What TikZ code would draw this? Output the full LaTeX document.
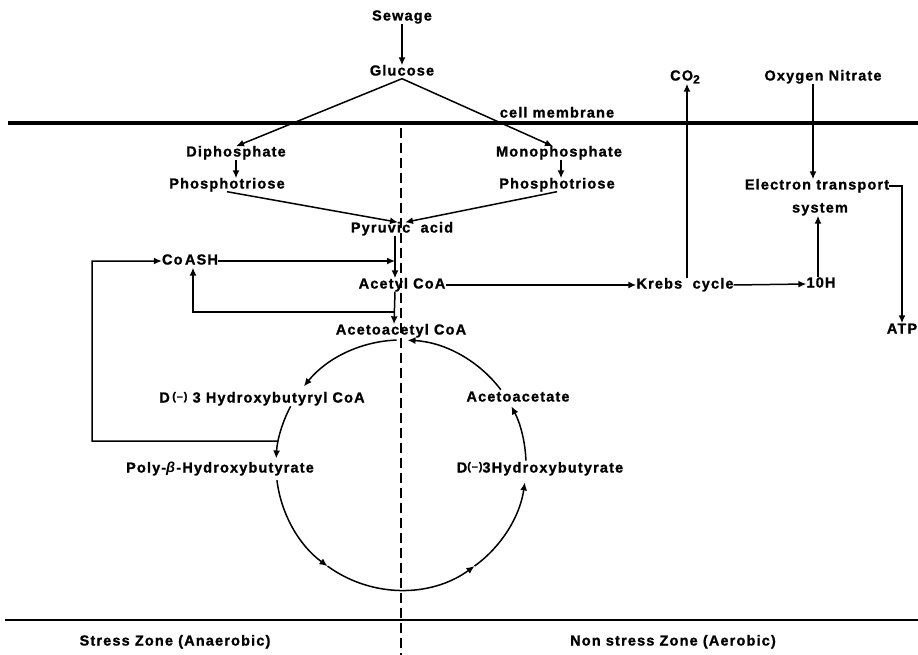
\documentclass[tikz,border=0pt]{standalone}
\usepackage{fontspec}
\setmainfont{Liberation Sans}[LetterSpace=8, BoldFeatures={FakeBold=1.2}]
\usetikzlibrary{arrows.meta}

\newcommand{\levosign}{\raisebox{2.5pt}{\fontsize{11}{11}\selectfont(--)}}

\begin{document}
\begin{tikzpicture}[x=1pt,y=-1pt]
        \tikzstyle{every node}=[font=\fontsize{14.5}{17}\selectfont\bfseries, inner sep=0pt, text height=10pt, text depth=3pt]
        \tikzstyle{flow}=[line width=1.5pt, -{Latex[length=8pt,width=7pt]}]

        \useasboundingbox (0,0) rectangle (918,655);

        % membrane, zone border and divide
        \draw[line width=3.5pt] (8,123) -- (918,123);
        \draw[line width=1.4pt] (5,620) -- (918,620);
        \draw[line width=1.5pt, dash pattern=on 10pt off 5pt] (401,128) -- (401,655);

        \node (sewage)    at (402,17)  {Sewage};
        \node (glucose)   at (402,72)  {Glucose};
        \node (memlabel)  at (557,114) {cell membrane};
        \node (diphos)    at (236,153) {Diphosphate};
        \node (triL)      at (227,185) {Phosphotriose};
        \node (monophos)  at (559,153) {Monophosphate};
        \node (triR)      at (557,185) {Phosphotriose};
        \node (pyruvic)   at (402,229) {Pyruvic\ \ acid};
        \node (coash)     at (190,261) {Co\,ASH};
        \node (acetyl)    at (402,285) {Acetyl CoA};
        \node (acacoa)    at (401,331) {Acetoacetyl CoA};
        \node (krebs)     at (685,285) {Krebs\ \ cycle};
        \node (co2)       at (685,77)  {CO\raisebox{-3pt}{\fontsize{12}{12}\selectfont 2}};
        \node (oxygen)    at (823,77)  {Oxygen Nitrate};
        \node (etsA)      at (817,186) {Electron transport};
        \node (etsB)      at (820,209) {system};
        \node (tenh)      at (821,284) {10H};
        \node (atp)       at (902,330) {ATP};
        \node (hbcoa)     at (262,399) {D\,\levosign\ 3 Hydroxybutyryl CoA};
        \node (phb)       at (220,469) {Poly-\textit{β}-Hydroxybutyrate};
        \node (acac)      at (518,398) {Acetoacetate};
        \node (hb)        at (540,469) {D\levosign3Hydroxybutyrate};
        \node (stress)    at (175,642) {Stress Zone (Anaerobic)};
        \node (nonstress) at (673,642) {Non stress Zone (Aerobic)};

        % glycolysis
        \draw[flow] (sewage.south) -- (glucose.north);
        \draw[flow] (glucose.south) -- (diphos.north);
        \draw[flow] (glucose.south) -- ([xshift=-6pt]monophos.north);
        \draw[flow] (diphos.south) -- (diphos.south |- triL.north);
        \draw[flow] ([xshift=2pt]monophos.south) -- ([xshift=2pt]monophos.south |- triR.north);
        \draw[flow] (triL.south) -- ([xshift=-4pt]pyruvic.north);
        \draw[flow] (triR.south) -- ([xshift=3pt]pyruvic.north);

        % CoA branch
        \coordinate (trunk) at ([xshift=-7pt]pyruvic.south);
        \coordinate (ret) at (395,312);
        \coordinate (loopturn) at (92,441);
        \draw[flow] (trunk) -- ([xshift=-7pt]acetyl.north);
        \draw[flow] (coash.east) -- (coash.east -| trunk);
        \draw[flow] ([xshift=-7pt]acetyl.south) -- ([xshift=-7pt]acacoa.north);
        \draw[flow] (ret) -| ([xshift=3pt]coash.south);

        % aerobic side
        \draw[flow] (acetyl.east) -- (krebs.west);
        \draw[flow] (krebs.east) -- (tenh.west);
        \draw[flow] ([xshift=2pt]krebs.north) -- ([xshift=2pt]krebs.north |- co2.south);
        \draw[flow] ([xshift=-10pt]oxygen.south) -- ([xshift=-10pt]oxygen.south |- etsA.north);
        \draw[flow] ([xshift=-3pt]tenh.north) -- ([xshift=-3pt]tenh.north |- etsB.south);
        \draw[flow] (etsA.east) -| (atp.north);

        % hydroxybutyrate cycle
        \coordinate (cyc) at (401,465);
        \foreach \a/\b in {-37/-87, -92/-141, -152/-177, 173/126, 126/54, 54/8, -2/-28}
            \draw[flow] ([shift={(\a:125)}]cyc) arc[start angle=\a, end angle=\b, radius=125];
        \coordinate (tap) at ([shift={(-169:125)}]cyc);
        \draw[flow] (tap) -- (loopturn) |- (coash.west);

    \end{tikzpicture}
\end{document}
